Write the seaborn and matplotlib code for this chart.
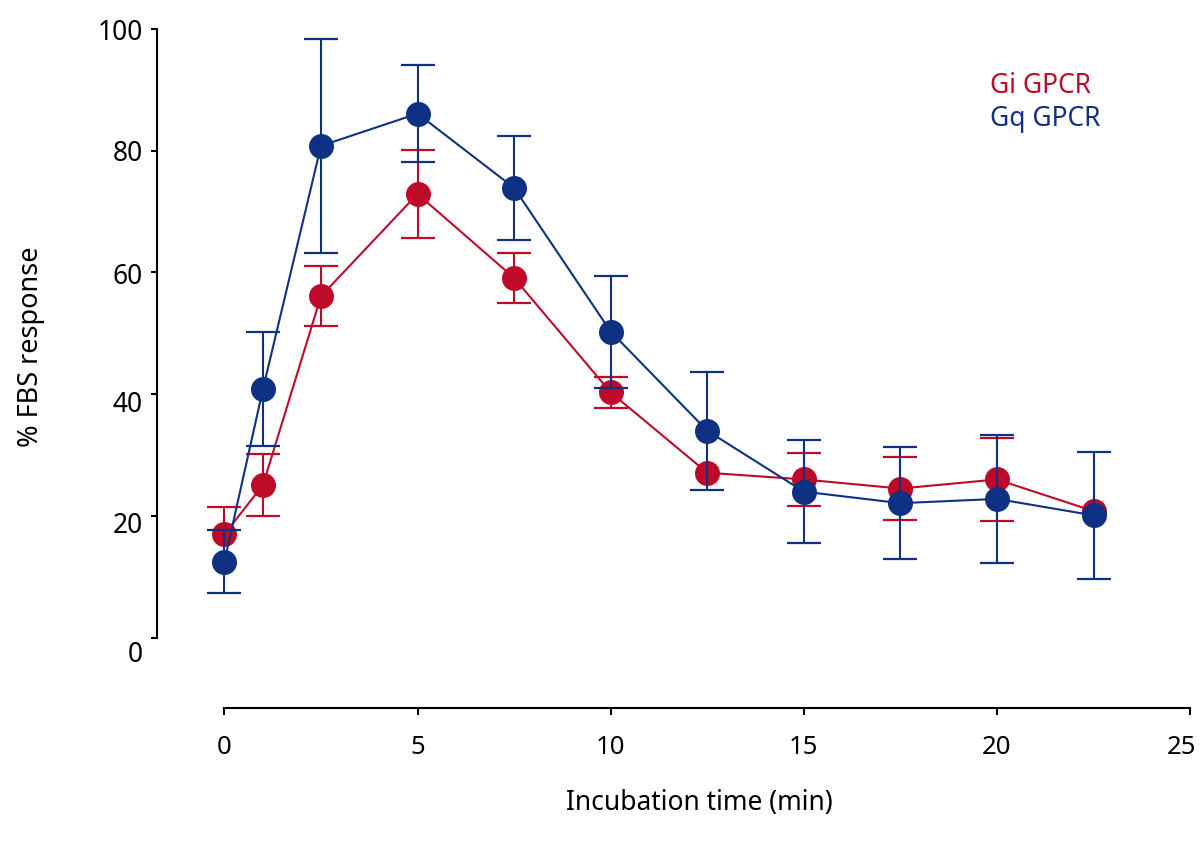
import numpy as np
import pandas as pd
import seaborn as sns
import matplotlib
matplotlib.use("Agg")
import matplotlib.pyplot as plt
from matplotlib.transforms import ScaledTranslation

# incubation times (min)
times = [0, 1, 2.5, 5, 7.5, 10, 12.5, 15, 17.5, 20, 22.5]

# % FBS response
gi_mean = [17.0, 25.1, 56.1, 72.9, 59.1, 40.3, 27.1, 26.0, 24.5, 26.0, 20.8]
gi_err_lo = [0, 5.1, 4.9, 7.3, 4.15, 2.55, 0, 4.3, 5.15, 6.85, 0]
gi_err_hi = [4.5, 5.1, 4.9, 7.3, 4.15, 2.55, 0, 4.3, 5.15, 6.85, 0]
gq_mean = [12.5, 40.9, 80.8, 86.1, 73.9, 50.3, 34.0, 24.0, 22.1, 22.8, 20.1]
gq_err_lo = [5.2, 9.35, 17.55, 7.95, 8.6, 9.2, 9.7, 8.45, 9.2, 10.45, 10.4]
gq_err_hi = [5.2, 9.35, 17.55, 7.95, 8.6, 9.2, 9.7, 8.45, 9.2, 10.45, 10.4]

series_names = ["Gi GPCR", "Gq GPCR"]
red = "#BE0A28"
blue = "#0E3183"

df = pd.DataFrame({
    "time": times * 2,
    "response": gi_mean + gq_mean,
    "lo": gi_err_lo + gq_err_lo,
    "hi": gi_err_hi + gq_err_hi,
    "series": [series_names[0]] * len(times) + [series_names[1]] * len(times),
})

sns.set_theme(style="ticks")
plt.rcParams["font.family"] = ["Noto Sans", "DejaVu Sans"]

fig = plt.figure(figsize=(12, 8.41), dpi=100)
ax = fig.add_axes([157 / 1200, 1 - 707.7 / 841, (1192 - 157) / 1200, (707.7 - 29) / 841])

z = 2
for name, col in zip(series_names, [red, blue]):
    d = df[df["series"] == name]
    e = d[d["hi"] > 0]
    _, caps, _ = ax.errorbar(e["time"], e["response"], yerr=[e["lo"], e["hi"]], fmt="none",
                             ecolor=col, elinewidth=1.5, capsize=12.5, capthick=1.6,
                             zorder=z, clip_on=False)
    # no lower cap where there is no lower bar
    keep = (e["lo"] > 0).to_numpy()
    low = caps[0]
    low.set_data(np.asarray(low.get_xdata())[keep], np.asarray(low.get_ydata())[keep])
    sns.lineplot(data=d, x="time", y="response", color=col, marker="o", markersize=18,
                 markeredgewidth=0, linewidth=1.5, zorder=z + 1, ax=ax, clip_on=False)
    z += 2

ax.set_xlim(-1.745, 25.05)
ax.set_ylim(-11.5, 100)
ax.set_xticks([0, 5, 10, 15, 20, 25])
ax.set_yticks([0, 20, 40, 60, 80, 100])
sns.despine(ax=ax)
ax.spines["left"].set_bounds(0, 100)
ax.spines["bottom"].set_bounds(0, 25)
for s in ["left", "bottom"]:
    ax.spines[s].set_linewidth(1.5)
    ax.spines[s].set_color("black")
ax.tick_params(axis="y", length=4.5, width=1.5, pad=5.5, labelsize=19, colors="black")
ax.tick_params(axis="x", length=5, width=1.5, pad=15, labelsize=18.5, colors="black")
ax.set_xlabel("")
ax.set_ylabel("")

# some tick labels sit off their ticks in the original
fig.canvas.draw()
yshift = {0: 14, 20: 7, 40: 7, 60: 1}
for lab, v in zip(ax.get_yticklabels(), [0, 20, 40, 60, 80, 100]):
    dy = yshift.get(v, 0)
    if dy:
        lab.set_transform(lab.get_transform() + ScaledTranslation(0, -dy / 100, fig.dpi_scale_trans))
last = ax.get_xticklabels()[-1]
last.set_transform(last.get_transform() + ScaledTranslation(-8.5 / 100, 0, fig.dpi_scale_trans))

fig.text(699 / 1200, 1 - 803 / 841, "Incubation time (min)", ha="center", va="center",
         fontsize=19, color="black")
fig.text(31 / 1200, 1 - 347 / 841, "% FBS response", ha="center", va="center",
         rotation=90, fontsize=19.5, color="black")

fig.text(990 / 1200, 1 - 92.7 / 841, series_names[0], color=red, fontsize=19, va="baseline")
fig.text(990 / 1200, 1 - 126 / 841, series_names[1], color=blue, fontsize=19, va="baseline")

fig.savefig("out.png", dpi=100)
